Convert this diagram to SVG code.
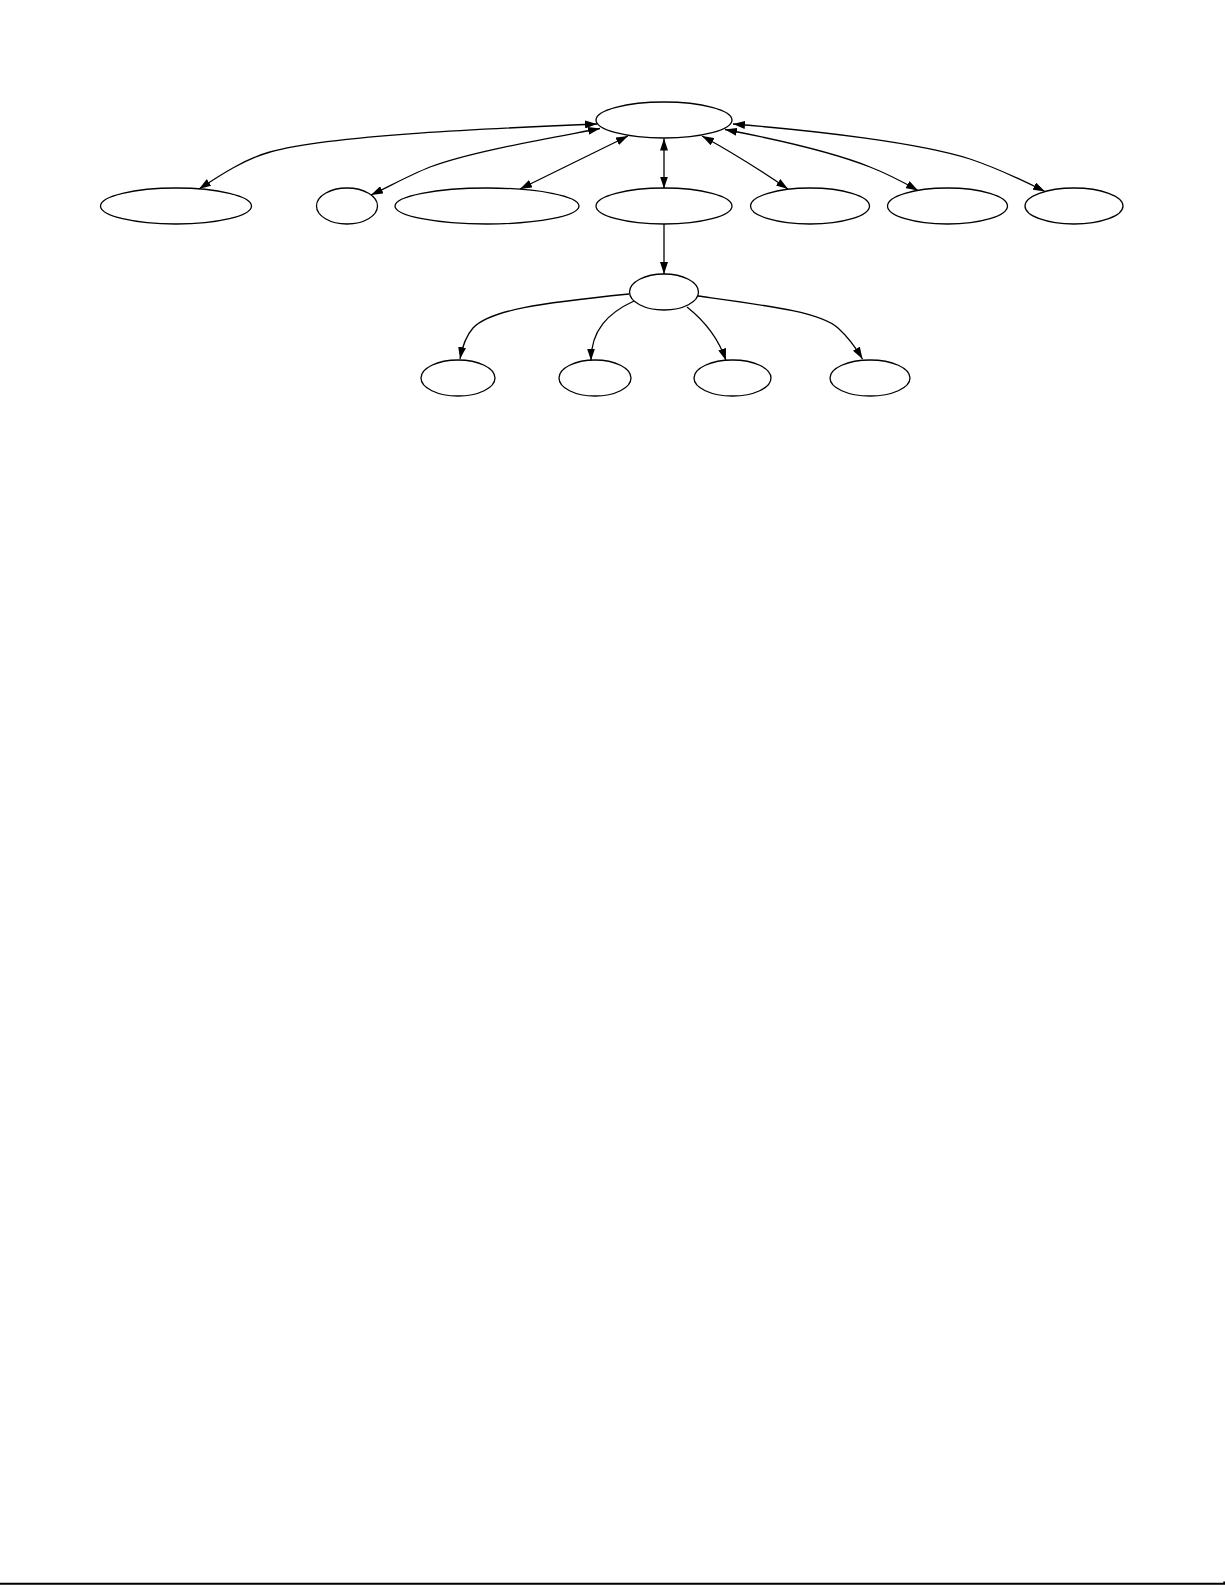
<svg xmlns="http://www.w3.org/2000/svg" width="1225" height="1585" viewBox="0 0 1225 1585">
<style>
.n{fill:none;stroke:#000;stroke-width:1.3}
.e{fill:none;stroke:#000;stroke-width:1.3}
</style>
<defs>
<marker id="ah" viewBox="0 0 12 8" refX="12" refY="4" markerWidth="12" markerHeight="8" markerUnits="userSpaceOnUse" orient="auto-start-reverse">
<path d="M0,0 L12,4 L0,8 Z" fill="#000"/>
</marker>
</defs>
<rect x="0" y="0" width="1225" height="1585" fill="#fff"/>
<g id="connectors">
<path class="e" d="M597,124 C500,128 330,135 270,152 C245,159 222,174 199,189" marker-start="url(#ah)" marker-end="url(#ah)"/>
<path class="e" d="M600,128.5 C540,140 470,152 430,167 C410,175 392,185 371,195" marker-start="url(#ah)" marker-end="url(#ah)"/>
<path class="e" d="M628,136 L520,189" marker-start="url(#ah)" marker-end="url(#ah)"/>
<path class="e" d="M664,138.5 L664,188.5" marker-start="url(#ah)" marker-end="url(#ah)"/>
<path class="e" d="M702,136 C728,150 760,170 788,189" marker-start="url(#ah)" marker-end="url(#ah)"/>
<path class="e" d="M725,129.5 C790,142 840,155 870,167 C888,174 903,182 918,190.5" marker-start="url(#ah)" marker-end="url(#ah)"/>
<path class="e" d="M733,124 C820,131 920,143 970,159 C997,168 1022,180 1045,191.5" marker-start="url(#ah)" marker-end="url(#ah)"/>
<path class="e" d="M664,224 L664,274" marker-end="url(#ah)"/>
<path class="e" d="M629,294 C540,303 490,310 473,328 C465,337 462,348 460,359" marker-end="url(#ah)"/>
<path class="e" d="M634,301 C608,313 591,330 591,360.5" marker-end="url(#ah)"/>
<path class="e" d="M687,307 C706,322 719,340 726,360.5" marker-end="url(#ah)"/>
<path class="e" d="M698,296 C770,306 820,312 838,328 C848,337 856,348 862.5,359" marker-end="url(#ah)"/>
</g>
<g id="n_top"><ellipse class="n" cx="664" cy="120" rx="68" ry="18"/></g>
<g id="n_a"><ellipse class="n" cx="176" cy="206" rx="75.5" ry="18"/></g>
<g id="n_b"><ellipse class="n" cx="347" cy="206" rx="30.5" ry="18"/></g>
<g id="n_c"><ellipse class="n" cx="487" cy="206" rx="92" ry="18"/></g>
<g id="n_d"><ellipse class="n" cx="664" cy="206" rx="68" ry="18"/></g>
<g id="n_e"><ellipse class="n" cx="810" cy="206" rx="59.5" ry="18"/></g>
<g id="n_f"><ellipse class="n" cx="947.5" cy="206" rx="60" ry="18"/></g>
<g id="n_g"><ellipse class="n" cx="1074" cy="206" rx="49" ry="18"/></g>
<g id="n_m"><ellipse class="n" cx="664" cy="292" rx="34.5" ry="18"/></g>
<g id="n_b1"><ellipse class="n" cx="458" cy="378" rx="37" ry="18"/></g>
<g id="n_b2"><ellipse class="n" cx="595" cy="378" rx="36" ry="18"/></g>
<g id="n_b3"><ellipse class="n" cx="732.5" cy="378" rx="38.5" ry="18"/></g>
<g id="n_b4"><ellipse class="n" cx="870" cy="378" rx="40" ry="18"/></g>
<g id="page_border">
<path d="M0,1583.8 L1224.3,1583.8 L1224.3,1581.5" fill="none" stroke="#000" stroke-width="2"/>
</g>
</svg>
